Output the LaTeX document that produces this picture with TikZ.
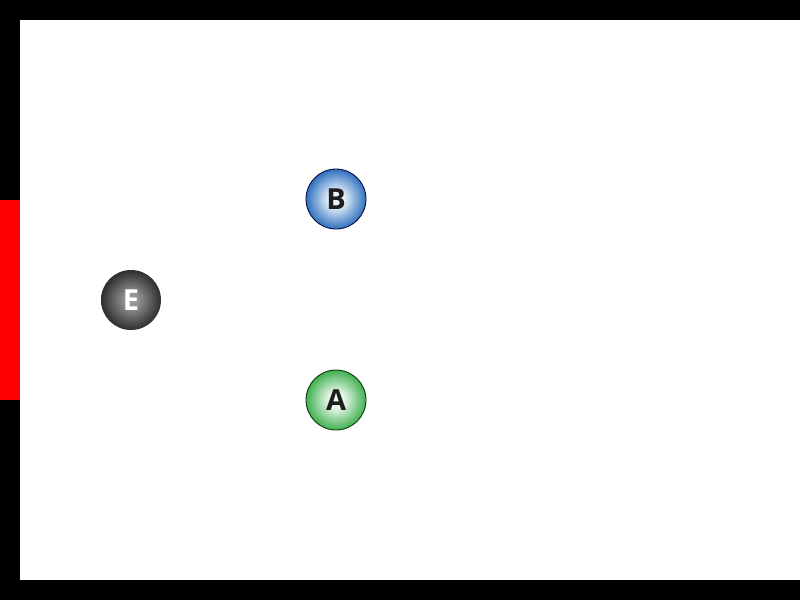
\documentclass[tikz,border=0pt]{standalone}
\usepackage{fontspec}
\newfontfamily\labfont{Open Sans}
\definecolor{bedge}{RGB}{36,106,186}
\definecolor{bcenter}{RGB}{235,243,252}
\definecolor{gedge}{RGB}{56,170,72}
\definecolor{gcenter}{RGB}{236,250,238}
\definecolor{eedge}{RGB}{35,35,35}
\definecolor{ecenter}{RGB}{150,150,150}
\definecolor{txtdark}{RGB}{30,30,30}
\pgfdeclareradialshading{ballblue}{\pgfpoint{0bp}{0bp}}{color(0bp)=(bcenter); color(6bp)=(bcenter); color(26bp)=(bedge); color(50bp)=(bedge)}
\pgfdeclareradialshading{ballgreen}{\pgfpoint{0bp}{0bp}}{color(0bp)=(gcenter); color(6bp)=(gcenter); color(26bp)=(gedge); color(50bp)=(gedge)}
\pgfdeclareradialshading{ballgray}{\pgfpoint{0bp}{0bp}}{color(0bp)=(ecenter); color(5bp)=(ecenter); color(27bp)=(eedge); color(50bp)=(eedge)}
\tikzset{
  ball/.style={circle, minimum size=60pt, inner sep=0pt, font=\labfont\bfseries\fontsize{29}{30}\selectfont},
}
\begin{document}
\begin{tikzpicture}[x=1pt,y=-1pt]
\useasboundingbox (0,0) rectangle (800,600);
\fill[white] (0,0) rectangle (800,600);
\fill[black] (0,0) rectangle (800,20);
\fill[black] (0,580) rectangle (800,600);
\fill[black] (0,0) rectangle (20,600);
\fill[red] (0,200) rectangle (20,400);
\node[ball, shading=ballblue, draw=black!80!blue, line width=0.8pt, text=txtdark] (B) at (336,199) {B};
\node[ball, shading=ballgray, text=white] (E) at (131,300) {E};
\node[ball, shading=ballgreen, draw=black!80!green, line width=0.8pt, text=txtdark] (A) at (336,400) {A};
\end{tikzpicture}
\end{document}
